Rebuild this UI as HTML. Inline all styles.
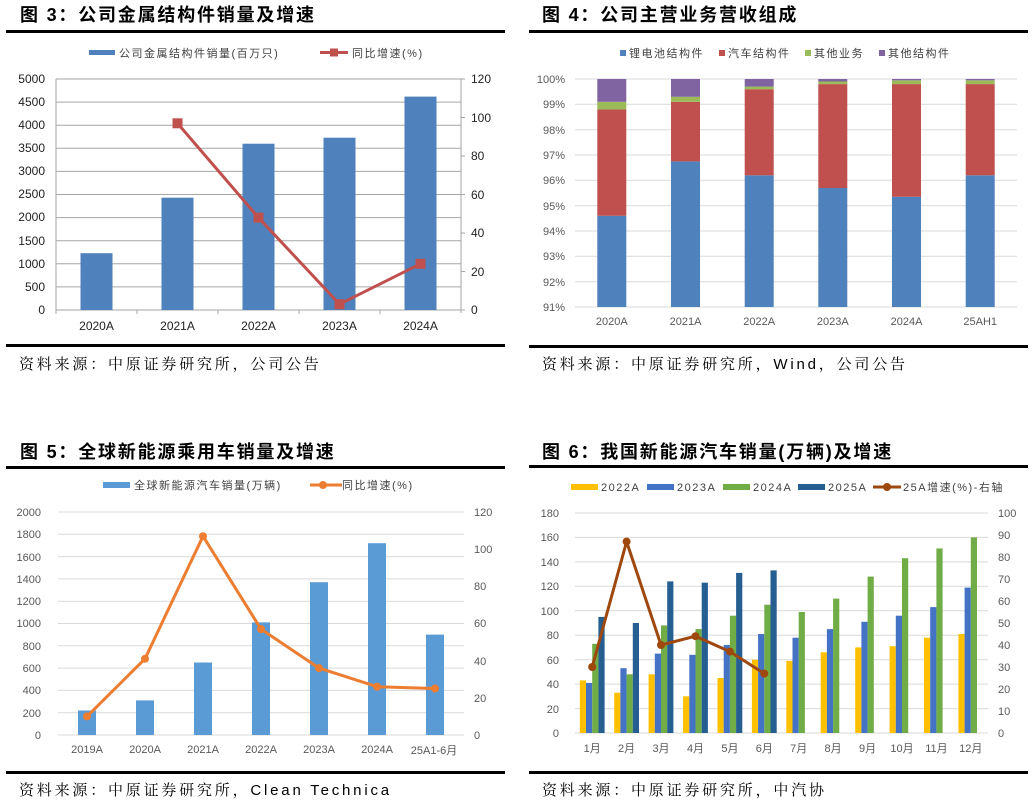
<!DOCTYPE html>
<html><head><meta charset="utf-8"><style>
html,body{margin:0;padding:0;background:#fff;}
svg{display:block;}
text{font-family:"Liberation Sans","Noto Sans CJK SC",sans-serif;}
.t{font-size:18px;font-weight:bold;fill:#000;letter-spacing:1.8px;}
.s{font-size:15px;fill:#000;font-family:"Liberation Sans","Noto Serif CJK SC",serif;letter-spacing:2.8px;}
.a{font-size:12px;fill:#222;}
.g{font-size:11px;fill:#595959;}
.l{font-size:11px;fill:#404040;letter-spacing:1.5px;}
</style></head><body>
<svg width="1034" height="803" viewBox="0 0 1034 803" xmlns="http://www.w3.org/2000/svg">
<!-- ===== Chart 3 ===== -->
<text class="t" x="20" y="21">图 3：公司金属结构件销量及增速</text>
<rect x="6" y="30" width="499" height="3" fill="#000"/>
<rect x="89" y="50" width="26" height="5" fill="#4f81bd"/>
<text class="l" x="119" y="57">公司金属结构件销量(百万只)</text>
<line x1="320" y1="52.5" x2="348" y2="52.5" stroke="#c0504d" stroke-width="3"/>
<rect x="330" y="48.5" width="8" height="8" fill="#c0504d"/>
<text class="l" x="352" y="57">同比增速(%)</text>
<g stroke="#a6a6a6" stroke-width="1">
<line x1="56" y1="79" x2="461" y2="79"/><line x1="56" y1="102.1" x2="461" y2="102.1"/><line x1="56" y1="125.2" x2="461" y2="125.2"/><line x1="56" y1="148.3" x2="461" y2="148.3"/><line x1="56" y1="171.4" x2="461" y2="171.4"/><line x1="56" y1="194.5" x2="461" y2="194.5"/><line x1="56" y1="217.6" x2="461" y2="217.6"/><line x1="56" y1="240.7" x2="461" y2="240.7"/><line x1="56" y1="263.8" x2="461" y2="263.8"/><line x1="56" y1="286.9" x2="461" y2="286.9"/>
<line x1="56" y1="79" x2="56" y2="310"/><line x1="461" y1="79" x2="461" y2="313"/>
<line x1="56" y1="310" x2="461" y2="310"/>
<line x1="56" y1="310" x2="56" y2="314"/><line x1="137" y1="310" x2="137" y2="314"/><line x1="218" y1="310" x2="218" y2="314"/><line x1="299" y1="310" x2="299" y2="314"/><line x1="380" y1="310" x2="380" y2="314"/>
<line x1="461" y1="79" x2="465" y2="79"/><line x1="461" y1="117.5" x2="465" y2="117.5"/><line x1="461" y1="156" x2="465" y2="156"/><line x1="461" y1="194.5" x2="465" y2="194.5"/><line x1="461" y1="233" x2="465" y2="233"/><line x1="461" y1="271.5" x2="465" y2="271.5"/><line x1="461" y1="310" x2="465" y2="310"/>
</g>
<g fill="#4f81bd">
<rect x="80.5" y="253.2" width="32" height="56.8"/><rect x="161.5" y="197.7" width="32" height="112.3"/><rect x="242.5" y="143.7" width="32" height="166.3"/><rect x="323.5" y="137.7" width="32" height="172.3"/><rect x="404.5" y="96.6" width="32" height="213.4"/>
</g>
<polyline points="177.5,123.3 258.5,217.6 339.5,304.2 420.5,263.8" fill="none" stroke="#c0504d" stroke-width="3"/>
<g fill="#c0504d"><rect x="172.5" y="118.3" width="10" height="10"/><rect x="253.5" y="212.6" width="10" height="10"/><rect x="334.5" y="299.2" width="10" height="10"/><rect x="415.5" y="258.8" width="10" height="10"/></g>
<g class="a" text-anchor="end">
<text x="45" y="83">5000</text><text x="45" y="106">4500</text><text x="45" y="129">4000</text><text x="45" y="152">3500</text><text x="45" y="175">3000</text><text x="45" y="198">2500</text><text x="45" y="221">2000</text><text x="45" y="245">1500</text><text x="45" y="268">1000</text><text x="45" y="291">500</text><text x="45" y="314">0</text>
</g>
<g class="a">
<text x="471" y="83">120</text><text x="471" y="122">100</text><text x="471" y="160">80</text><text x="471" y="199">60</text><text x="471" y="237">40</text><text x="471" y="276">20</text><text x="471" y="314">0</text>
</g>
<g class="a" text-anchor="middle"><text x="96.5" y="330">2020A</text><text x="177.5" y="330">2021A</text><text x="258.5" y="330">2022A</text><text x="339.5" y="330">2023A</text><text x="420.5" y="330">2024A</text></g>
<rect x="6" y="344" width="499" height="3" fill="#000"/>
<text class="s" x="19" y="369">资料来源：中原证券研究所，公司公告</text>

<!-- ===== Chart 4 ===== -->
<text class="t" x="542" y="21">图 4：公司主营业务营收组成</text>
<rect x="529" y="30" width="499" height="3" fill="#000"/>
<rect x="620" y="50" width="6" height="6" fill="#4f81bd"/><text class="l" x="629" y="57">锂电池结构件</text>
<rect x="719" y="50" width="6" height="6" fill="#c0504d"/><text class="l" x="728" y="57">汽车结构件</text>
<rect x="805" y="50" width="6" height="6" fill="#9bbb59"/><text class="l" x="814" y="57">其他业务</text>
<rect x="879" y="50" width="6" height="6" fill="#8064a2"/><text class="l" x="888" y="57">其他结构件</text>
<g stroke="#d9d9d9" stroke-width="1">
<line x1="575" y1="79" x2="1017" y2="79"/><line x1="575" y1="104.3" x2="1017" y2="104.3"/><line x1="575" y1="129.7" x2="1017" y2="129.7"/><line x1="575" y1="155" x2="1017" y2="155"/><line x1="575" y1="180.3" x2="1017" y2="180.3"/><line x1="575" y1="205.7" x2="1017" y2="205.7"/><line x1="575" y1="231" x2="1017" y2="231"/><line x1="575" y1="256.3" x2="1017" y2="256.3"/><line x1="575" y1="281.7" x2="1017" y2="281.7"/><line x1="575" y1="307" x2="1017" y2="307"/>
</g>
<g>
<rect x="597.3" y="215.8" width="29" height="91.2" fill="#4f81bd"/><rect x="597.3" y="109.4" width="29" height="106.4" fill="#c0504d"/><rect x="597.3" y="101.8" width="29" height="7.6" fill="#9bbb59"/><rect x="597.3" y="79" width="29" height="22.8" fill="#8064a2"/>
<rect x="671" y="161.4" width="29" height="145.6" fill="#4f81bd"/><rect x="671" y="101.8" width="29" height="59.6" fill="#c0504d"/><rect x="671" y="96.8" width="29" height="5" fill="#9bbb59"/><rect x="671" y="79" width="29" height="17.8" fill="#8064a2"/>
<rect x="744.7" y="175.3" width="29" height="131.7" fill="#4f81bd"/><rect x="744.7" y="89.2" width="29" height="86.1" fill="#c0504d"/><rect x="744.7" y="86.6" width="29" height="2.6" fill="#9bbb59"/><rect x="744.7" y="79" width="29" height="7.6" fill="#8064a2"/>
<rect x="818.3" y="188" width="29" height="119" fill="#4f81bd"/><rect x="818.3" y="84.1" width="29" height="103.9" fill="#c0504d"/><rect x="818.3" y="81.5" width="29" height="2.6" fill="#9bbb59"/><rect x="818.3" y="79" width="29" height="2.5" fill="#8064a2"/>
<rect x="892" y="196.8" width="29" height="110.2" fill="#4f81bd"/><rect x="892" y="84.1" width="29" height="112.7" fill="#c0504d"/><rect x="892" y="80.3" width="29" height="3.8" fill="#9bbb59"/><rect x="892" y="79" width="29" height="1.3" fill="#8064a2"/>
<rect x="965.7" y="175.3" width="29" height="131.7" fill="#4f81bd"/><rect x="965.7" y="84.1" width="29" height="91.2" fill="#c0504d"/><rect x="965.7" y="80.3" width="29" height="3.8" fill="#9bbb59"/><rect x="965.7" y="79" width="29" height="1.3" fill="#8064a2"/>
</g>
<g class="g" text-anchor="end">
<text x="565" y="83">100%</text><text x="565" y="108">99%</text><text x="565" y="134">98%</text><text x="565" y="159">97%</text><text x="565" y="184">96%</text><text x="565" y="210">95%</text><text x="565" y="235">94%</text><text x="565" y="260">93%</text><text x="565" y="286">92%</text><text x="565" y="311">91%</text>
</g>
<g class="g" text-anchor="middle"><text x="611.8" y="325">2020A</text><text x="685.5" y="325">2021A</text><text x="759.2" y="325">2022A</text><text x="832.8" y="325">2023A</text><text x="906.5" y="325">2024A</text><text x="980.2" y="325">25AH1</text></g>
<rect x="529" y="345" width="499" height="3" fill="#000"/>
<text class="s" x="542" y="369">资料来源：中原证券研究所，Wind，公司公告</text>

<!-- ===== Chart 5 ===== -->
<text class="t" x="20" y="458">图 5：全球新能源乘用车销量及增速</text>
<rect x="6" y="466" width="499" height="3" fill="#000"/>
<rect x="103" y="482" width="27" height="6" fill="#5b9bd5"/>
<text class="l" x="134" y="489">全球新能源汽车销量(万辆)</text>
<line x1="310" y1="485" x2="342" y2="485" stroke="#ed7d31" stroke-width="3"/>
<circle cx="323" cy="485" r="4" fill="#ed7d31"/>
<text class="l" x="342" y="489">同比增速(%)</text>
<g stroke="#d9d9d9" stroke-width="1">
<line x1="58" y1="512" x2="464" y2="512"/><line x1="58" y1="534.3" x2="464" y2="534.3"/><line x1="58" y1="556.6" x2="464" y2="556.6"/><line x1="58" y1="578.9" x2="464" y2="578.9"/><line x1="58" y1="601.2" x2="464" y2="601.2"/><line x1="58" y1="623.5" x2="464" y2="623.5"/><line x1="58" y1="645.8" x2="464" y2="645.8"/><line x1="58" y1="668.1" x2="464" y2="668.1"/><line x1="58" y1="690.4" x2="464" y2="690.4"/><line x1="58" y1="712.7" x2="464" y2="712.7"/><line x1="58" y1="735" x2="464" y2="735"/>
</g>
<g fill="#5b9bd5">
<rect x="78" y="710.5" width="18" height="24.5"/><rect x="136" y="700.4" width="18" height="34.6"/><rect x="194" y="662.5" width="18" height="72.5"/><rect x="252" y="622.4" width="18" height="112.6"/><rect x="310" y="582.2" width="18" height="152.8"/><rect x="368" y="543.2" width="18" height="191.8"/><rect x="426" y="634.6" width="18" height="100.4"/>
</g>
<polyline points="87,716.4 145,658.8 203,536.2 261,629.1 319,668.1 377,686.7 435,688.5" fill="none" stroke="#ed7d31" stroke-width="3" stroke-linejoin="round"/>
<g fill="#ed7d31"><circle cx="87" cy="716.4" r="4"/><circle cx="145" cy="658.8" r="4"/><circle cx="203" cy="536.2" r="4"/><circle cx="261" cy="629.1" r="4"/><circle cx="319" cy="668.1" r="4"/><circle cx="377" cy="686.7" r="4"/><circle cx="435" cy="688.5" r="4"/></g>
<g class="g" text-anchor="end">
<text x="41" y="516">2000</text><text x="41" y="538">1800</text><text x="41" y="561">1600</text><text x="41" y="583">1400</text><text x="41" y="605">1200</text><text x="41" y="627">1000</text><text x="41" y="650">800</text><text x="41" y="672">600</text><text x="41" y="694">400</text><text x="41" y="717">200</text><text x="41" y="739">0</text>
</g>
<g class="g">
<text x="474" y="516">120</text><text x="474" y="553">100</text><text x="474" y="590">80</text><text x="474" y="627">60</text><text x="474" y="665">40</text><text x="474" y="702">20</text><text x="474" y="739">0</text>
</g>
<g class="g" text-anchor="middle"><text x="87" y="753">2019A</text><text x="145" y="753">2020A</text><text x="203" y="753">2021A</text><text x="261" y="753">2022A</text><text x="319" y="753">2023A</text><text x="377" y="753">2024A</text><text x="434" y="754">25A1-6月</text></g>
<rect x="6" y="771" width="499" height="3" fill="#000"/>
<text class="s" x="19" y="795">资料来源：中原证券研究所，Clean Technica</text>

<!-- ===== Chart 6 ===== -->
<text class="t" x="542" y="458">图 6：我国新能源汽车销量(万辆)及增速</text>
<rect x="529" y="465" width="499" height="3" fill="#000"/>
<rect x="571" y="484" width="27" height="6" fill="#ffc000"/><text class="l" x="601" y="491">2022A</text>
<rect x="647" y="484" width="27" height="6" fill="#4472c4"/><text class="l" x="677" y="491">2023A</text>
<rect x="723" y="484" width="27" height="6" fill="#70ad47"/><text class="l" x="753" y="491">2024A</text>
<rect x="798" y="484" width="27" height="6" fill="#255e91"/><text class="l" x="828" y="491">2025A</text>
<line x1="873" y1="487" x2="901" y2="487" stroke="#9e480e" stroke-width="3"/><circle cx="887" cy="487" r="4" fill="#9e480e"/><text class="l" x="903" y="491">25A增速(%)-右轴</text>
<g stroke="#d9d9d9" stroke-width="1">
<line x1="575" y1="513" x2="988" y2="513"/><line x1="575" y1="537.4" x2="988" y2="537.4"/><line x1="575" y1="561.9" x2="988" y2="561.9"/><line x1="575" y1="586.3" x2="988" y2="586.3"/><line x1="575" y1="610.8" x2="988" y2="610.8"/><line x1="575" y1="635.2" x2="988" y2="635.2"/><line x1="575" y1="659.7" x2="988" y2="659.7"/><line x1="575" y1="684.1" x2="988" y2="684.1"/><line x1="575" y1="708.6" x2="988" y2="708.6"/><line x1="575" y1="733" x2="988" y2="733"/>
</g>
<g fill="#ffc000">
<rect x="579.8" y="680.4" width="6.2" height="52.6"/><rect x="614.2" y="692.7" width="6.2" height="40.3"/><rect x="648.6" y="674.3" width="6.2" height="58.7"/><rect x="683.1" y="696.3" width="6.2" height="36.7"/><rect x="717.5" y="678" width="6.2" height="55"/><rect x="751.9" y="659.7" width="6.2" height="73.3"/><rect x="786.3" y="660.9" width="6.2" height="72.1"/><rect x="820.7" y="652.3" width="6.2" height="80.7"/><rect x="855.2" y="647.4" width="6.2" height="85.6"/><rect x="889.6" y="646.2" width="6.2" height="86.8"/><rect x="924" y="637.7" width="6.2" height="95.3"/><rect x="958.4" y="634" width="6.2" height="99"/>
</g>
<g fill="#4472c4">
<rect x="586" y="682.9" width="6.2" height="50.1"/><rect x="620.4" y="668.2" width="6.2" height="64.8"/><rect x="654.8" y="653.6" width="6.2" height="79.4"/><rect x="689.3" y="654.8" width="6.2" height="78.2"/><rect x="723.7" y="645" width="6.2" height="88"/><rect x="758.1" y="634" width="6.2" height="99"/><rect x="792.5" y="637.7" width="6.2" height="95.3"/><rect x="826.9" y="629.1" width="6.2" height="103.9"/><rect x="861.4" y="621.8" width="6.2" height="111.2"/><rect x="895.8" y="615.7" width="6.2" height="117.3"/><rect x="930.2" y="607.1" width="6.2" height="125.9"/><rect x="964.6" y="587.6" width="6.2" height="145.4"/>
</g>
<g fill="#70ad47">
<rect x="592.2" y="643.8" width="6.2" height="89.2"/><rect x="626.6" y="674.3" width="6.2" height="58.7"/><rect x="661" y="625.4" width="6.2" height="107.6"/><rect x="695.5" y="629.1" width="6.2" height="103.9"/><rect x="729.9" y="615.7" width="6.2" height="117.3"/><rect x="764.3" y="604.7" width="6.2" height="128.3"/><rect x="798.7" y="612" width="6.2" height="121"/><rect x="833.1" y="598.6" width="6.2" height="134.4"/><rect x="867.6" y="576.6" width="6.2" height="156.4"/><rect x="902" y="558.2" width="6.2" height="174.8"/><rect x="936.4" y="548.4" width="6.2" height="184.6"/><rect x="970.8" y="537.4" width="6.2" height="195.6"/>
</g>
<g fill="#255e91">
<rect x="598.4" y="616.9" width="6.2" height="116.1"/><rect x="632.8" y="623" width="6.2" height="110"/><rect x="667.2" y="581.4" width="6.2" height="151.6"/><rect x="701.7" y="582.7" width="6.2" height="150.3"/><rect x="736.1" y="572.9" width="6.2" height="160.1"/><rect x="770.5" y="570.4" width="6.2" height="162.6"/>
</g>
<polyline points="592.2,667 626.6,541.6 661,645 695.5,636.2 729.9,651.6 764.3,673.6" fill="none" stroke="#9e480e" stroke-width="3" stroke-linejoin="round"/>
<g fill="#9e480e"><circle cx="592.2" cy="667" r="4"/><circle cx="626.6" cy="541.6" r="4"/><circle cx="661" cy="645" r="4"/><circle cx="695.5" cy="636.2" r="4"/><circle cx="729.9" cy="651.6" r="4"/><circle cx="764.3" cy="673.6" r="4"/></g>
<g class="g" text-anchor="end">
<text x="559" y="517">180</text><text x="559" y="541">160</text><text x="559" y="566">140</text><text x="559" y="590">120</text><text x="559" y="615">100</text><text x="559" y="639">80</text><text x="559" y="664">60</text><text x="559" y="688">40</text><text x="559" y="713">20</text><text x="559" y="737">0</text>
</g>
<g class="g">
<text x="998" y="517">100</text><text x="998" y="539">90</text><text x="998" y="561">80</text><text x="998" y="583">70</text><text x="998" y="605">60</text><text x="998" y="627">50</text><text x="998" y="649">40</text><text x="998" y="671">30</text><text x="998" y="693">20</text><text x="998" y="715">10</text><text x="998" y="737">0</text>
</g>
<g class="g" text-anchor="middle">
<text x="592.2" y="752">1月</text><text x="626.6" y="752">2月</text><text x="661" y="752">3月</text><text x="695.5" y="752">4月</text><text x="729.9" y="752">5月</text><text x="764.3" y="752">6月</text><text x="798.7" y="752">7月</text><text x="833.1" y="752">8月</text><text x="867.6" y="752">9月</text><text x="902" y="752">10月</text><text x="936.4" y="752">11月</text><text x="970.8" y="752">12月</text>
</g>
<rect x="529" y="771" width="499" height="3" fill="#000"/>
<text class="s" x="542" y="795">资料来源：中原证券研究所，中汽协</text>
</svg>
</body></html>
